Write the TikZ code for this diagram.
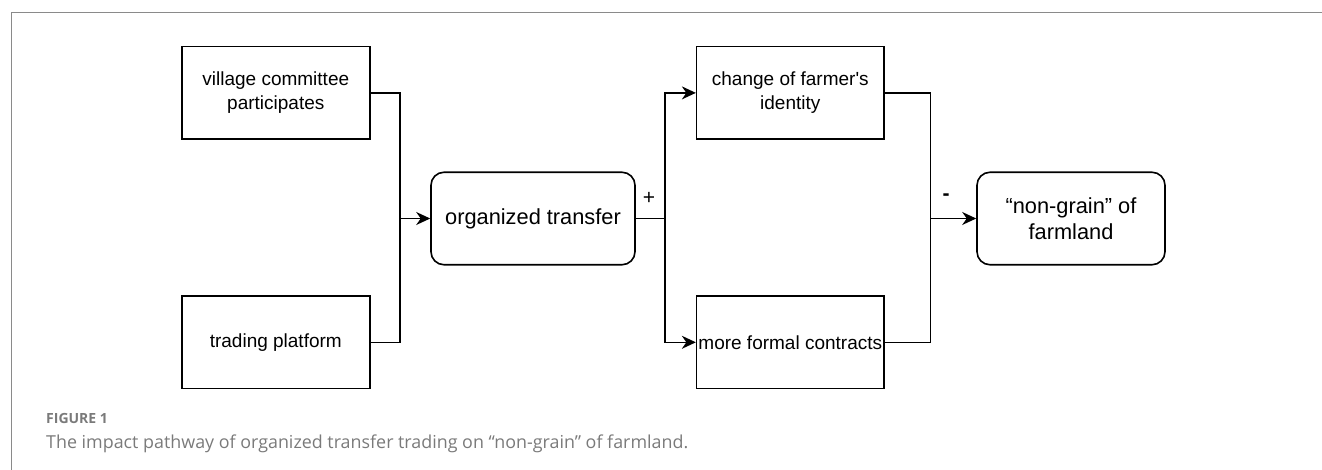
\documentclass[tikz,border=0pt]{standalone}
\usepackage{fontspec}
\setmainfont{Liberation Sans}
\newfontfamily\capfont{Open Sans}
\usetikzlibrary{arrows.meta}
\definecolor{framegray}{HTML}{8A8A8A}
\definecolor{capgray}{HTML}{7A7A7A}
\begin{document}
\begin{tikzpicture}[x=1pt,y=-1pt,
  box/.style={draw=black, line width=1.6pt, rectangle, minimum width=188pt, minimum height=92.5pt, inner sep=0pt, align=center, font=\fontsize{19}{24}\selectfont},
  rbox/.style={box, rounded corners=13pt, font=\fontsize{21.8}{26}\selectfont},
  conn/.style={draw=black, line width=1.5pt},
  arr/.style={conn, -{Stealth[length=14pt, width=13pt, inset=4.5pt]}},
  sign/.style={inner sep=0pt, font=\fontsize{21}{24}\selectfont}
]
\useasboundingbox (0,0) rectangle (1322,470);
% frame
\draw[framegray, line width=1.2pt] (11.5,470) -- (11.5,12.3) -- (1322,12.3);

\node[box] (vc) at (275.8,92.9) {village committee\\participates};
\node[box] (tp) at (275.8,342.3) {trading platform};
\node[rbox, minimum width=204pt] (ot) at (533,218.5) {organized transfer};
\node[box, minimum width=187.3pt] (cf) at (790.3,92.9) {change of farmer\textquotesingle s\\identity};
\node[box, minimum width=187.3pt] (mf) at (790.3,342.3) {more formal contracts};
\node[rbox] (ng) at (1071,218.5) {“non-grain” of\\farmland};

\coordinate (ja) at (400,218.5);
\coordinate (jb) at (665,218.5);
\coordinate (jc) at (930.7,218.5);

\draw[conn] (vc.east) -| (ja);
\draw[conn] (tp.east) -| (ja);
\draw[arr] (ja) -- (ot.west);
\draw[conn] (ot.east) -- (jb);
\draw[arr] (jb) |- (cf.west);
\draw[arr] (jb) |- (mf.west);
\draw[conn] (cf.east) -| (jc);
\draw[conn] (mf.east) -| (jc);
\draw[arr] (jc) -- (ng.west);

\node[sign] (plus) at (649,198) {+};
\node[sign] (minus) at (946,197) {\textbf{-}};

% caption
\node[anchor=base west, inner sep=0pt, text=capgray, font=\capfont\bfseries\fontsize{14}{16}\selectfont] (figlab) at (46,423) {FIGURE 1};
\node[anchor=base west, inner sep=0pt, text=capgray, font=\capfont] (cap) at (46,448) {\resizebox{642pt}{!}{The impact pathway of organized transfer trading on “non-grain” of farmland.}};
\end{tikzpicture}
\end{document}
